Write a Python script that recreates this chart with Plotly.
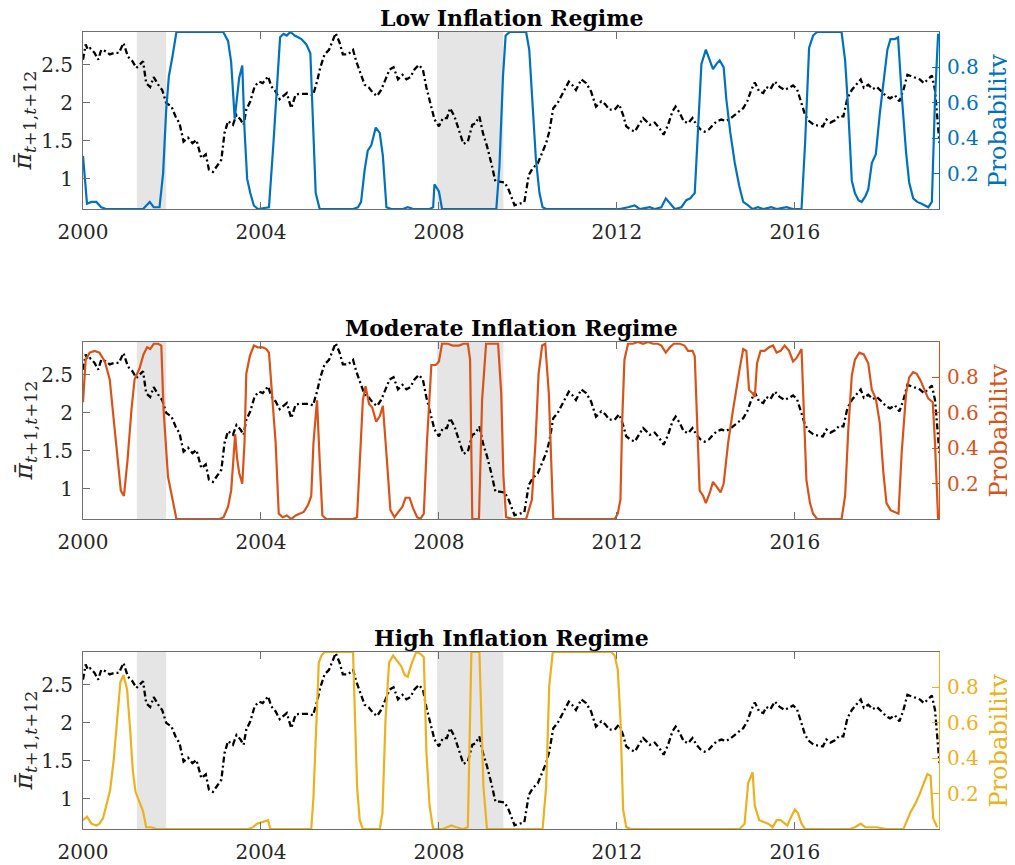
import plotly.graph_objects as go

# ---------------- data ----------------
x_tick_vals = [2000, 2004, 2008, 2012, 2016]
infl_tick_vals = [1, 1.5, 2, 2.5]
infl_tick_text = ["1", "1.5", "2", "2.5"]
prob_tick_vals = [0.2, 0.4, 0.6, 0.8]
prob_tick_text = ["0.2", "0.4", "0.6", "0.8"]
recessions = [(2001.21, 2001.87), (2007.96, 2009.45)]

panel_titles = ["Low Inflation Regime", "Moderate Inflation Regime", "High Inflation Regime"]

# average expected inflation over t+1..t+12 (year, value)
inflation = [
    (2000.00, 2.57), (2000.06, 2.77), (2000.11, 2.70), (2000.16, 2.72), (2000.26, 2.66), (2000.34, 2.57),
    (2000.41, 2.70), (2000.51, 2.68), (2000.60, 2.64), (2000.71, 2.66), (2000.81, 2.66), (2000.91, 2.79),
    (2001.01, 2.61), (2001.11, 2.55), (2001.20, 2.46), (2001.27, 2.50), (2001.35, 2.55), (2001.42, 2.26),
    (2001.51, 2.21), (2001.59, 2.34), (2001.69, 2.24), (2001.78, 2.17), (2001.87, 2.00), (2001.99, 1.95),
    (2002.08, 1.82), (2002.17, 1.73), (2002.26, 1.49), (2002.36, 1.54), (2002.46, 1.47), (2002.55, 1.51),
    (2002.66, 1.27), (2002.76, 1.32), (2002.83, 1.12), (2002.92, 1.09), (2003.01, 1.16), (2003.11, 1.25),
    (2003.18, 1.60), (2003.26, 1.76), (2003.37, 1.71), (2003.45, 1.84), (2003.54, 1.78), (2003.61, 1.71),
    (2003.67, 1.91), (2003.76, 2.02), (2003.86, 2.22), (2003.96, 2.28), (2004.04, 2.26), (2004.16, 2.35),
    (2004.23, 2.22), (2004.33, 2.15), (2004.42, 2.05), (2004.51, 2.09), (2004.58, 2.13), (2004.68, 1.93),
    (2004.78, 2.11), (2004.87, 2.12), (2004.96, 2.12), (2005.06, 2.12), (2005.17, 2.10), (2005.26, 2.28),
    (2005.33, 2.46), (2005.43, 2.64), (2005.53, 2.70), (2005.62, 2.83), (2005.68, 2.92), (2005.77, 2.79),
    (2005.84, 2.64), (2005.96, 2.64), (2006.07, 2.70), (2006.14, 2.55), (2006.23, 2.39), (2006.33, 2.24),
    (2006.43, 2.20), (2006.52, 2.13), (2006.61, 2.09), (2006.70, 2.17), (2006.80, 2.31), (2006.89, 2.44),
    (2006.98, 2.47), (2007.08, 2.31), (2007.18, 2.37), (2007.27, 2.31), (2007.36, 2.34), (2007.45, 2.44),
    (2007.55, 2.50), (2007.64, 2.44), (2007.72, 2.20), (2007.81, 2.00), (2007.90, 1.78), (2008.00, 1.69),
    (2008.09, 1.80), (2008.18, 1.80), (2008.25, 1.93), (2008.35, 1.82), (2008.45, 1.65), (2008.55, 1.46),
    (2008.65, 1.49), (2008.75, 1.71), (2008.82, 1.73), (2008.91, 1.82), (2008.99, 1.60), (2009.08, 1.43),
    (2009.18, 1.20), (2009.27, 0.96), (2009.36, 0.96), (2009.48, 0.95), (2009.57, 0.85), (2009.70, 0.65),
    (2009.81, 0.67), (2009.92, 0.69), (2010.02, 1.05), (2010.11, 1.14), (2010.22, 1.20), (2010.32, 1.34),
    (2010.41, 1.47), (2010.48, 1.62), (2010.57, 1.93), (2010.67, 2.00), (2010.77, 2.11), (2010.82, 2.17),
    (2010.92, 2.28), (2010.99, 2.24), (2011.08, 2.17), (2011.20, 2.31), (2011.31, 2.26), (2011.42, 2.15),
    (2011.53, 1.95), (2011.65, 2.02), (2011.74, 1.98), (2011.83, 1.91), (2011.95, 1.91), (2012.05, 1.98),
    (2012.14, 1.84), (2012.21, 1.69), (2012.30, 1.65), (2012.40, 1.62), (2012.50, 1.71), (2012.59, 1.80),
    (2012.66, 1.76), (2012.74, 1.71), (2012.85, 1.74), (2012.95, 1.67), (2013.05, 1.58), (2013.15, 1.71),
    (2013.25, 1.89), (2013.32, 1.95), (2013.41, 1.87), (2013.50, 1.76), (2013.60, 1.73), (2013.70, 1.80),
    (2013.79, 1.71), (2013.88, 1.65), (2013.97, 1.62), (2014.07, 1.65), (2014.16, 1.71), (2014.25, 1.76),
    (2014.35, 1.78), (2014.45, 1.76), (2014.54, 1.79), (2014.65, 1.84), (2014.75, 1.89), (2014.84, 1.93),
    (2014.93, 2.02), (2015.02, 2.17), (2015.10, 2.27), (2015.20, 2.15), (2015.29, 2.13), (2015.36, 2.21),
    (2015.45, 2.18), (2015.55, 2.28), (2015.66, 2.21), (2015.77, 2.17), (2015.87, 2.20), (2015.96, 2.23),
    (2016.05, 2.18), (2016.15, 1.98), (2016.23, 1.84), (2016.32, 1.76), (2016.43, 1.71), (2016.53, 1.70),
    (2016.63, 1.69), (2016.71, 1.78), (2016.80, 1.74), (2016.90, 1.77), (2017.00, 1.83), (2017.09, 1.82),
    (2017.18, 2.06), (2017.28, 2.17), (2017.37, 2.24), (2017.48, 2.31), (2017.55, 2.20), (2017.65, 2.24),
    (2017.75, 2.18), (2017.84, 2.21), (2017.95, 2.15), (2018.05, 2.09), (2018.14, 2.06), (2018.25, 2.10),
    (2018.35, 2.02), (2018.44, 2.17), (2018.53, 2.37), (2018.63, 2.35), (2018.72, 2.33), (2018.81, 2.31),
    (2018.90, 2.26), (2018.99, 2.31), (2019.08, 2.36), (2019.15, 2.17), (2019.20, 1.76), (2019.25, 1.47),
]

prob_low = [
    (2000.00, 0.30), (2000.09, 0.03), (2000.19, 0.04), (2000.30, 0.04), (2000.41, 0.01), (2000.52, 0.0),
    (2001.20, 0.0), (2001.35, 0.0), (2001.50, 0.04), (2001.59, 0.01), (2001.72, 0.01), (2001.80, 0.20),
    (2001.87, 0.56), (2001.93, 0.75), (2002.01, 0.86), (2002.10, 1.0), (2003.15, 1.0), (2003.26, 0.95),
    (2003.33, 0.83), (2003.41, 0.51), (2003.51, 0.74), (2003.58, 0.81), (2003.63, 0.45), (2003.69, 0.17),
    (2003.76, 0.09), (2003.84, 0.02), (2003.93, 0.0), (2004.18, 0.01), (2004.28, 0.37), (2004.38, 0.75),
    (2004.43, 0.97), (2004.51, 0.99), (2004.58, 0.98), (2004.66, 1.0), (2004.76, 0.98), (2004.91, 0.96),
    (2005.02, 0.93), (2005.11, 0.88), (2005.17, 0.52), (2005.23, 0.09), (2005.32, 0.0), (2006.07, 0.0),
    (2006.18, 0.01), (2006.25, 0.04), (2006.33, 0.22), (2006.40, 0.33), (2006.48, 0.36), (2006.58, 0.46),
    (2006.67, 0.43), (2006.74, 0.30), (2006.82, 0.01), (2006.93, 0.0), (2007.19, 0.0), (2007.30, 0.01),
    (2007.42, 0.0), (2007.79, 0.0), (2007.87, 0.01), (2007.90, 0.14), (2008.00, 0.10), (2008.07, 0.0),
    (2009.29, 0.0), (2009.36, 0.24), (2009.44, 0.75), (2009.50, 0.98), (2009.59, 1.0), (2009.96, 1.0),
    (2010.03, 0.90), (2010.11, 0.58), (2010.18, 0.28), (2010.26, 0.09), (2010.33, 0.01), (2010.41, 0.0),
    (2012.06, 0.0), (2012.25, 0.01), (2012.40, 0.02), (2012.51, 0.0), (2012.74, 0.01), (2012.85, 0.0),
    (2013.00, 0.01), (2013.10, 0.06), (2013.19, 0.03), (2013.30, 0.0), (2013.45, 0.01), (2013.56, 0.05),
    (2013.65, 0.06), (2013.75, 0.09), (2013.82, 0.43), (2013.90, 0.82), (2014.00, 0.90), (2014.09, 0.84),
    (2014.16, 0.79), (2014.24, 0.82), (2014.31, 0.84), (2014.40, 0.80), (2014.46, 0.62), (2014.55, 0.43),
    (2014.65, 0.26), (2014.75, 0.13), (2014.84, 0.04), (2014.95, 0.02), (2015.05, 0.0), (2015.17, 0.01),
    (2015.29, 0.0), (2015.47, 0.01), (2015.59, 0.0), (2015.81, 0.01), (2015.96, 0.0), (2016.15, 0.0),
    (2016.23, 0.37), (2016.32, 0.91), (2016.41, 0.98), (2016.50, 1.0), (2017.05, 1.0), (2017.13, 0.84),
    (2017.20, 0.56), (2017.28, 0.16), (2017.35, 0.09), (2017.43, 0.05), (2017.50, 0.04), (2017.58, 0.07),
    (2017.65, 0.11), (2017.73, 0.26), (2017.82, 0.31), (2017.91, 0.54), (2018.00, 0.75), (2018.08, 0.90),
    (2018.15, 0.96), (2018.25, 0.96), (2018.32, 0.97), (2018.40, 0.65), (2018.50, 0.32), (2018.57, 0.15),
    (2018.66, 0.06), (2018.75, 0.04), (2018.85, 0.03), (2018.93, 0.02), (2019.00, 0.01), (2019.08, 0.04),
    (2019.15, 0.62), (2019.22, 0.99),
]

prob_moderate = [
    (2000.00, 0.66), (2000.06, 0.90), (2000.15, 0.94), (2000.26, 0.95), (2000.37, 0.94), (2000.49, 0.89),
    (2000.60, 0.79), (2000.67, 0.62), (2000.76, 0.37), (2000.85, 0.16), (2000.92, 0.13), (2001.00, 0.33),
    (2001.09, 0.62), (2001.16, 0.79), (2001.27, 0.85), (2001.36, 0.93), (2001.44, 0.97), (2001.51, 0.96),
    (2001.59, 0.99), (2001.69, 0.99), (2001.76, 0.98), (2001.81, 0.62), (2001.91, 0.24), (2002.01, 0.11),
    (2002.10, 0.0), (2003.07, 0.0), (2003.16, 0.01), (2003.26, 0.07), (2003.33, 0.16), (2003.37, 0.30),
    (2003.42, 0.48), (2003.46, 0.35), (2003.51, 0.26), (2003.58, 0.20), (2003.63, 0.43), (2003.67, 0.82),
    (2003.75, 0.92), (2003.84, 0.98), (2003.93, 0.97), (2004.04, 0.97), (2004.12, 0.96), (2004.18, 0.94),
    (2004.25, 0.71), (2004.33, 0.43), (2004.40, 0.03), (2004.49, 0.01), (2004.58, 0.02), (2004.68, 0.0),
    (2004.78, 0.02), (2004.87, 0.03), (2004.96, 0.04), (2005.06, 0.08), (2005.13, 0.13), (2005.18, 0.43),
    (2005.26, 0.67), (2005.32, 0.33), (2005.38, 0.02), (2005.47, 0.0), (2006.07, 0.0), (2006.16, 0.01),
    (2006.23, 0.33), (2006.29, 0.67), (2006.35, 0.75), (2006.43, 0.65), (2006.50, 0.63), (2006.59, 0.55),
    (2006.67, 0.58), (2006.74, 0.64), (2006.82, 0.37), (2006.91, 0.05), (2007.00, 0.01), (2007.08, 0.04),
    (2007.18, 0.07), (2007.25, 0.12), (2007.34, 0.12), (2007.42, 0.06), (2007.51, 0.01), (2007.58, 0.0),
    (2007.66, 0.03), (2007.73, 0.43), (2007.83, 0.87), (2007.93, 0.87), (2008.00, 0.89), (2008.07, 0.99),
    (2008.20, 0.99), (2008.31, 0.98), (2008.45, 0.98), (2008.55, 0.99), (2008.65, 0.99), (2008.70, 0.90),
    (2008.75, 0.0), (2008.90, 0.0), (2008.97, 0.67), (2009.06, 0.99), (2009.33, 0.99), (2009.40, 0.71),
    (2009.45, 0.24), (2009.51, 0.01), (2009.66, 0.0), (2009.96, 0.0), (2010.02, 0.05), (2010.09, 0.11),
    (2010.17, 0.43), (2010.24, 0.82), (2010.32, 0.98), (2010.39, 0.99), (2010.47, 0.71), (2010.52, 0.33),
    (2010.57, 0.0), (2011.95, 0.0), (2012.02, 0.03), (2012.08, 0.11), (2012.12, 0.56), (2012.17, 0.90),
    (2012.25, 0.99), (2012.36, 0.99), (2012.47, 1.0), (2012.59, 0.99), (2012.70, 1.0), (2012.81, 0.99),
    (2012.92, 0.99), (2013.00, 0.98), (2013.10, 0.94), (2013.19, 0.97), (2013.28, 0.99), (2013.41, 0.99),
    (2013.52, 0.98), (2013.60, 0.95), (2013.70, 0.95), (2013.75, 0.92), (2013.80, 0.56), (2013.86, 0.16),
    (2013.94, 0.13), (2014.00, 0.09), (2014.09, 0.15), (2014.16, 0.21), (2014.25, 0.18), (2014.33, 0.15),
    (2014.40, 0.20), (2014.50, 0.43), (2014.60, 0.60), (2014.69, 0.75), (2014.76, 0.85), (2014.84, 0.96),
    (2014.91, 0.95), (2014.97, 0.73), (2015.05, 0.71), (2015.10, 0.69), (2015.15, 0.88), (2015.23, 0.95),
    (2015.32, 0.95), (2015.42, 0.97), (2015.51, 0.98), (2015.59, 0.94), (2015.68, 0.95), (2015.77, 0.98),
    (2015.87, 0.95), (2015.96, 0.89), (2016.04, 0.91), (2016.15, 0.96), (2016.20, 0.62), (2016.26, 0.22),
    (2016.34, 0.09), (2016.41, 0.03), (2016.50, 0.0), (2017.05, 0.0), (2017.13, 0.13), (2017.20, 0.50),
    (2017.28, 0.81), (2017.35, 0.90), (2017.45, 0.94), (2017.55, 0.93), (2017.65, 0.88), (2017.73, 0.73),
    (2017.82, 0.68), (2017.91, 0.54), (2017.99, 0.26), (2018.06, 0.09), (2018.15, 0.05), (2018.25, 0.04),
    (2018.33, 0.03), (2018.40, 0.37), (2018.50, 0.71), (2018.57, 0.80), (2018.66, 0.83), (2018.74, 0.82),
    (2018.83, 0.78), (2018.93, 0.72), (2019.00, 0.68), (2019.10, 0.66), (2019.15, 0.43), (2019.22, 0.0),
]

prob_high = [
    (2000.00, 0.05), (2000.09, 0.07), (2000.19, 0.03), (2000.30, 0.02), (2000.37, 0.03), (2000.45, 0.06),
    (2000.52, 0.13), (2000.61, 0.22), (2000.69, 0.39), (2000.76, 0.62), (2000.84, 0.83), (2000.91, 0.87),
    (2000.99, 0.79), (2001.06, 0.56), (2001.12, 0.33), (2001.18, 0.21), (2001.27, 0.15), (2001.35, 0.10),
    (2001.42, 0.01), (2001.54, 0.01), (2001.65, 0.0), (2003.71, 0.0), (2003.82, 0.01), (2003.91, 0.03),
    (2004.04, 0.04), (2004.16, 0.05), (2004.21, 0.0), (2005.13, 0.0), (2005.18, 0.18), (2005.24, 0.62),
    (2005.30, 0.94), (2005.36, 0.98), (2005.43, 1.0), (2006.07, 1.0), (2006.10, 0.71), (2006.16, 0.24),
    (2006.22, 0.05), (2006.29, 0.0), (2006.67, 0.0), (2006.73, 0.09), (2006.80, 0.62), (2006.88, 0.94),
    (2006.97, 0.98), (2007.06, 0.95), (2007.15, 0.92), (2007.23, 0.87), (2007.30, 0.86), (2007.38, 0.93),
    (2007.49, 1.0), (2007.58, 0.99), (2007.66, 0.97), (2007.72, 0.43), (2007.79, 0.13), (2007.87, 0.0),
    (2008.09, 0.0), (2008.18, 0.01), (2008.28, 0.02), (2008.39, 0.01), (2008.54, 0.0), (2008.65, 0.01),
    (2008.69, 0.52), (2008.73, 1.0), (2008.91, 1.0), (2008.95, 0.65), (2009.00, 0.24), (2009.08, 0.0),
    (2010.33, 0.0), (2010.41, 0.24), (2010.48, 0.81), (2010.56, 1.0), (2011.87, 1.0), (2011.95, 0.98),
    (2012.02, 0.90), (2012.08, 0.62), (2012.14, 0.11), (2012.21, 0.01), (2012.32, 0.0), (2014.76, 0.0),
    (2014.87, 0.03), (2014.95, 0.26), (2015.05, 0.32), (2015.10, 0.13), (2015.20, 0.05), (2015.30, 0.04),
    (2015.40, 0.03), (2015.50, 0.01), (2015.59, 0.05), (2015.68, 0.05), (2015.77, 0.03), (2015.83, 0.02),
    (2015.92, 0.07), (2016.00, 0.11), (2016.07, 0.09), (2016.15, 0.03), (2016.23, 0.0), (2017.24, 0.0),
    (2017.35, 0.01), (2017.48, 0.03), (2017.58, 0.01), (2017.84, 0.01), (2018.06, 0.0), (2018.44, 0.0),
    (2018.51, 0.04), (2018.59, 0.09), (2018.70, 0.14), (2018.81, 0.20), (2018.90, 0.26), (2018.98, 0.31),
    (2019.05, 0.30), (2019.11, 0.06), (2019.20, 0.01),
]

# ---------------- styling ----------------
series_colors = ["#0072BD", "#D95319", "#EDB120"]
prob_series = [prob_low, prob_moderate, prob_high]
FONT = "DejaVu Serif"
AX_COLOR = "#262626"
FRAME = "#6e6e6e"
SHADE = "#e5e5e5"

W, H = 1015, 865
OFF = 8  # default page body margin offsets the figure by 8px
# target page-pixel geometry of the plot areas
PL, PR = 83, 939
panel_px = [(32, 209), (342, 519), (652, 829)]
M_L = PL - OFF
M_R = W - (PR - OFF)
M_T = panel_px[0][0] - OFF
M_B = H - (panel_px[2][1] - OFF)
plot_h = H - M_T - M_B
plot_w = W - M_L - M_R
domains = [[(panel_px[2][1] - b) / plot_h, (panel_px[2][1] - t) / plot_h] for t, b in panel_px]

x_range = [2000, 2019.24]
infl_range = [0.6, 2.935]
prob_range = [0, 1]

fig = go.Figure()
annotations = []
shapes = []

for i in range(3):
    xa = "x" if i == 0 else f"x{i+1}"
    yl = f"y{2*i+1}" if i > 0 else "y"
    yr = f"y{2*i+2}"
    col = series_colors[i]

    fig.add_trace(go.Scatter(
        x=[p[0] for p in inflation], y=[p[1] for p in inflation],
        xaxis=xa, yaxis=yl, mode="lines",
        line=dict(color="black", width=2.3, dash="6px,3px,2px,3px"),
        showlegend=False, hoverinfo="skip"))
    pr = prob_series[i]
    fig.add_trace(go.Scatter(
        x=[p[0] for p in pr], y=[p[1] for p in pr],
        xaxis=xa, yaxis=yr, mode="lines",
        line=dict(color=col, width=2.2),
        showlegend=False, hoverinfo="skip"))

    xkey = "xaxis" if i == 0 else f"xaxis{i+1}"
    ylkey = "yaxis" if i == 0 else f"yaxis{2*i+1}"
    yrkey = f"yaxis{2*i+2}"

    fig.layout[xkey] = dict(
        domain=[0, 1], anchor=yl, range=x_range, automargin=False,
        tickvals=x_tick_vals, ticktext=[str(v) for v in x_tick_vals],
        ticks="inside", ticklen=7, tickwidth=1, tickcolor=FRAME,
        showline=True, linecolor=FRAME, linewidth=1, mirror="ticks",
        showgrid=False, zeroline=False,
        tickfont=dict(family=FONT, size=20, color=AX_COLOR),
        ticklabelstandoff=5,
    )
    fig.layout[ylkey] = dict(
        domain=domains[i], anchor=xa, range=infl_range, automargin=False,
        tickvals=infl_tick_vals, ticktext=infl_tick_text,
        ticks="inside", ticklen=7, tickwidth=1, tickcolor=FRAME,
        showline=True, linecolor=FRAME, linewidth=1,
        showgrid=False, zeroline=False,
        tickfont=dict(family=FONT, size=20, color=AX_COLOR),
        ticklabelstandoff=5,
    )
    fig.layout[yrkey] = dict(
        overlaying=yl, side="right", anchor=xa, range=prob_range, automargin=False,
        tickvals=prob_tick_vals, ticktext=prob_tick_text,
        ticks="inside", ticklen=7, tickwidth=1, tickcolor=col,
        showline=True, linecolor=col, linewidth=1,
        showgrid=False, zeroline=False,
        tickfont=dict(family=FONT, size=20, color=col),
        ticklabelstandoff=3,
    )

    for a, b in recessions:
        shapes.append(dict(type="rect", xref=xa, yref=f"{yl} domain",
                           x0=a, x1=b, y0=0, y1=1, fillcolor=SHADE,
                           line=dict(width=0), layer="below"))

    top = domains[i][1]
    mid = (domains[i][0] + domains[i][1]) / 2
    annotations.append(dict(
        text=f"<b>{panel_titles[i]}</b>", xref="paper", yref="paper",
        x=0.5, y=top, xanchor="center", yanchor="bottom", yshift=-1,
        showarrow=False, font=dict(family=FONT, size=22, color="black")))
    annotations.append(dict(
        text="<i>π̄</i><sub><i>t</i>+1,<i>t</i>+12</sub>",
        xref="paper", yref="paper", x=(24 - PL) / plot_w, y=mid,
        xanchor="center", yanchor="middle", textangle=-90, showarrow=False,
        font=dict(family=FONT, size=25, color=AX_COLOR)))
    annotations.append(dict(
        text="Probability", xref="paper", yref="paper",
        x=(998 - PL) / plot_w, y=mid,
        xanchor="center", yanchor="middle", textangle=-90, showarrow=False,
        font=dict(family=FONT, size=24, color=col)))

fig.update_layout(
    width=W, height=H,
    margin=dict(l=M_L, r=M_R, t=M_T, b=M_B, autoexpand=False),
    paper_bgcolor="white", plot_bgcolor="white",
    shapes=shapes, annotations=annotations,
    showlegend=False,
)

fig.write_html("out.html")
